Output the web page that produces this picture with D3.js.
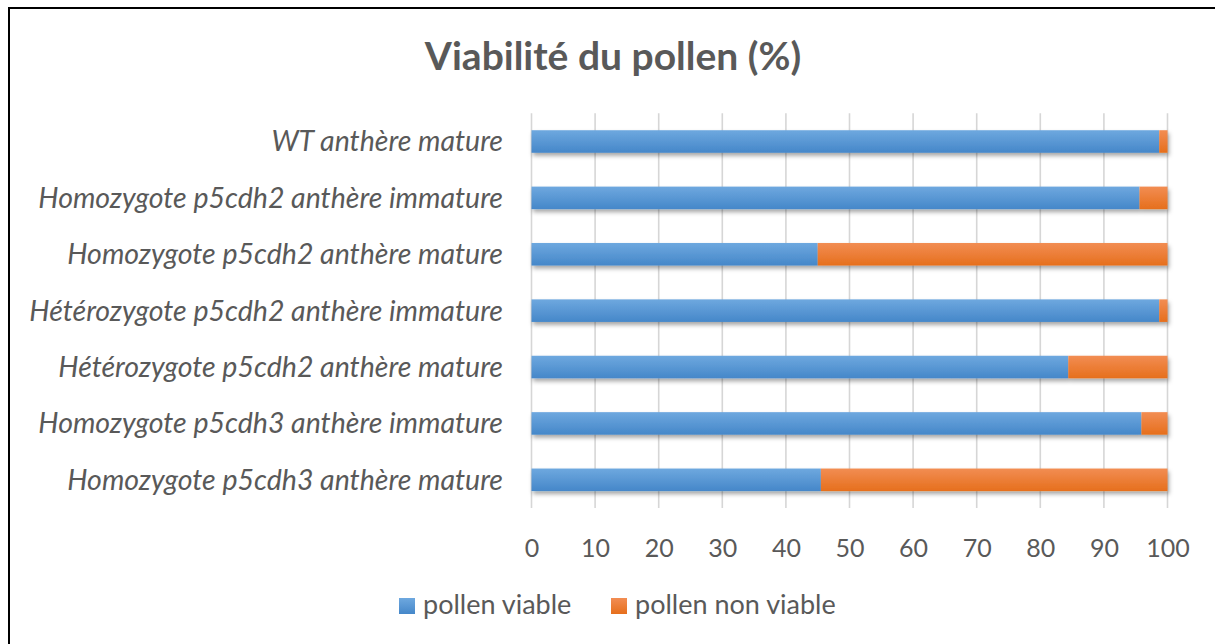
<!DOCTYPE html>
<html>
<head>
<meta charset="utf-8">
<script src="https://cdn.jsdelivr.net/npm/d3@7"></script>
<style>
  html, body { margin: 0; padding: 0; background: #fff; }
  svg { display: block; }
  text { font-family: Lato, "Open Sans", sans-serif; fill: #595959; }
</style>
</head>
<body>
<svg id="chart" width="1215" height="644"></svg>
<script>
// Pollen viability per genotype / anther stage (%)
const categories = [
  "WT anthère mature",
  "Homozygote p5cdh2 anthère immature",
  "Homozygote p5cdh2 anthère mature",
  "Hétérozygote p5cdh2 anthère immature",
  "Hétérozygote p5cdh2 anthère mature",
  "Homozygote p5cdh3 anthère immature",
  "Homozygote p5cdh3 anthère mature"
];
const viable    = [98.7, 95.6, 45.0, 98.7, 84.4, 95.9, 45.5];
const nonViable = [1.3, 4.4, 55.0, 1.3, 15.6, 4.1, 54.5];
const seriesNames = ["pollen viable", "pollen non viable"];
const xTicks = [0, 10, 20, 30, 40, 50, 60, 70, 80, 90, 100];

const svg = d3.select("#chart");
const defs = svg.append("defs");

// vertical gradients for the bar fills
const grads = [
  { id: "gBlue",   top: "#6ea8df", bottom: "#4587c9" },
  { id: "gOrange", top: "#f28d53", bottom: "#e66f1c" }
];
grads.forEach(g => {
  const lg = defs.append("linearGradient").attr("id", g.id)
    .attr("x1", 0).attr("y1", 0).attr("x2", 0).attr("y2", 1);
  lg.append("stop").attr("offset", "0%").attr("stop-color", g.top);
  lg.append("stop").attr("offset", "100%").attr("stop-color", g.bottom);
});

const shadow = defs.append("filter").attr("id", "shadow")
  .attr("x", "-5%").attr("y", "-50%").attr("width", "110%").attr("height", "250%");
shadow.append("feDropShadow").attr("dx", 1.5).attr("dy", 3)
  .attr("stdDeviation", 2.2).attr("flood-color", "#000").attr("flood-opacity", 0.35);

// outer frame (top and left edges visible)
svg.append("path").attr("d", "M9,644 L9,8 L1215,8")
  .attr("fill", "none").attr("stroke", "#000").attr("stroke-width", 2);

const plot = { left: 531.5, right: 1167.5, top: 113.3, bottom: 508 };

const x = d3.scaleLinear().domain([0, 100]).range([plot.left, plot.right]);
const y = d3.scaleBand().domain(categories).range([plot.top, plot.bottom])
  .paddingInner(0.6).paddingOuter(0.3);

// title
svg.append("text").attr("x", 613).attr("y", 70)
  .attr("text-anchor", "middle")
  .style("font-size", "39px").style("font-weight", "bold")
  .text("Viabilité du pollen (%)");

// gridlines
svg.append("g").selectAll("line").data(xTicks).join("line")
  .attr("x1", d => x(d)).attr("x2", d => x(d))
  .attr("y1", plot.top).attr("y2", plot.bottom)
  .attr("stroke", "#d6d6d6").attr("stroke-width", 1.6);

// x-axis labels
const xAxis = d3.axisBottom(x).tickValues(xTicks).tickSize(0).tickPadding(0);
const gx = svg.append("g").attr("transform", `translate(0,${plot.bottom + 49})`).call(xAxis);
gx.select(".domain").remove();
gx.selectAll("text").style("font-size", "25px").style("font-family", "Lato, sans-serif")
  .attr("fill", "#595959").attr("dy", 0);

// category labels
const yAxis = d3.axisLeft(y).tickSize(0).tickPadding(0);
const gy = svg.append("g").attr("transform", `translate(${503},0)`).call(yAxis);
gy.select(".domain").remove();
gy.selectAll("text").style("font-size", "28.5px").style("font-style", "italic")
  .style("font-family", "Lato, sans-serif").attr("fill", "#595959").attr("dy", "0.35em");

// stacked bars
const rows = categories.map((c, i) => ({ cat: c, viable: viable[i], nonViable: nonViable[i] }));
const stack = d3.stack().keys(["viable", "nonViable"])(rows);
const fills = ["url(#gBlue)", "url(#gOrange)"];

const barsG = svg.append("g").attr("filter", "url(#shadow)");
stack.forEach((layer, k) => {
  barsG.append("g").selectAll("rect").data(layer).join("rect")
    .attr("x", d => x(d[0]))
    .attr("width", d => x(d[1]) - x(d[0]))
    .attr("y", d => y(d.data.cat))
    .attr("height", y.bandwidth())
    .attr("fill", fills[k]);
});

// legend
const legend = svg.append("g");
const legendItems = [
  { name: seriesNames[0], fill: fills[0], x: 399 },
  { name: seriesNames[1], fill: fills[1], x: 611 }
];
legendItems.forEach(it => {
  legend.append("rect").attr("x", it.x).attr("y", 598).attr("width", 16).attr("height", 16)
    .attr("fill", it.fill);
  legend.append("text").attr("x", it.x + 24).attr("y", 614)
    .style("font-size", "27px").text(it.name);
});
</script>
</body>
</html>
